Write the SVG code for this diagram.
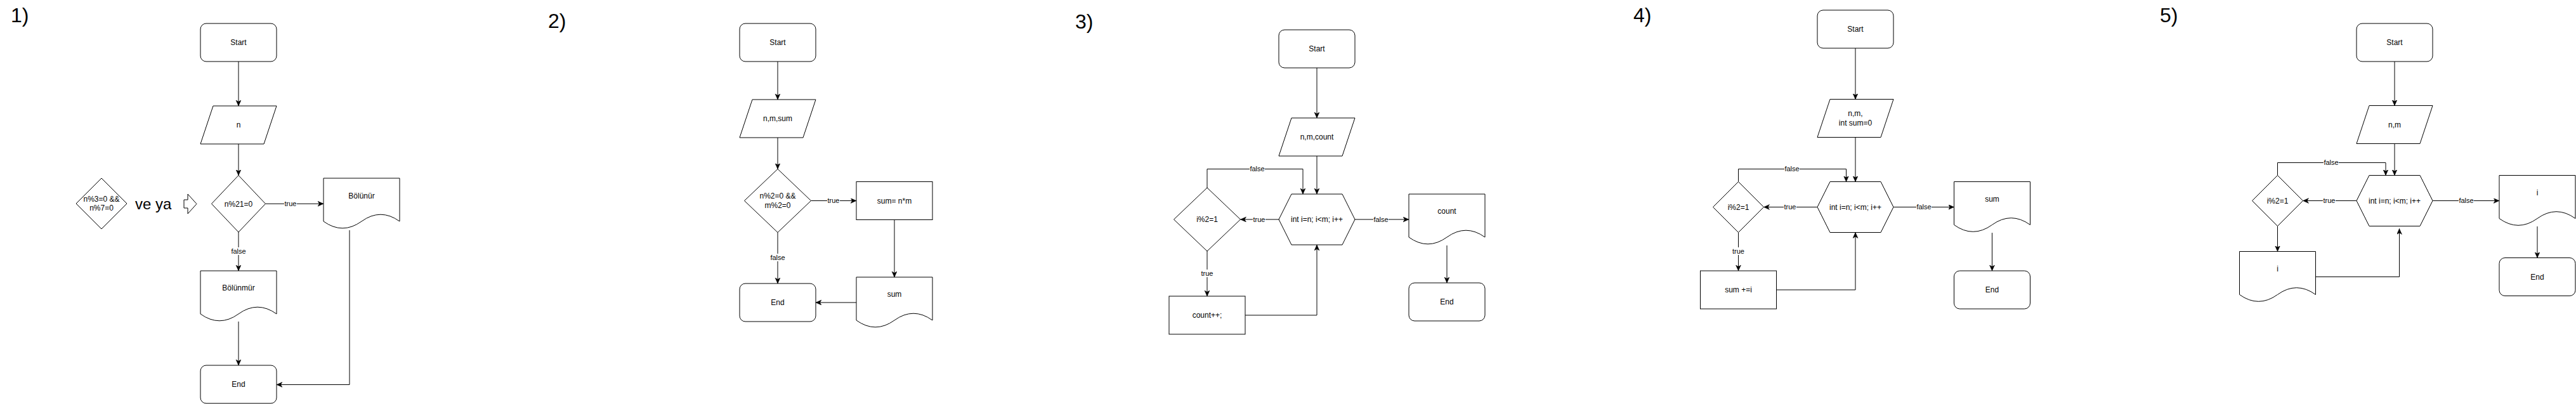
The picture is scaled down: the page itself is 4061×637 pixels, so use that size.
<svg xmlns="http://www.w3.org/2000/svg" width="4061" height="637" viewBox="0 0 4061 637">
<style>
.s{fill:#fff;stroke:#000;stroke-width:1}
.t{font-family:"Liberation Sans",Arial,Helvetica,sans-serif;font-size:12px;text-anchor:middle;fill:#000}
.h{font-family:"Liberation Sans",Arial,Helvetica,sans-serif;font-size:32px;fill:#000}
.e{fill:none;stroke:#000;stroke-width:1}
.l{font-family:"Liberation Sans",Arial,Helvetica,sans-serif;font-size:11px;text-anchor:middle;fill:#000}
.lb{fill:#fff;stroke:none}
</style>
<defs>
<marker id="a" markerUnits="userSpaceOnUse" markerWidth="10" markerHeight="9" refX="9" refY="4" orient="auto">
<path d="M0,0 L9,4 L0,8 L2.5,4 Z" fill="#000" stroke="#000" stroke-width="0.5"/>
</marker>
</defs>
<rect width="4061" height="637" fill="#fff"/>

<!-- Titles -->
<text class="h" x="17" y="35">1)</text>
<text class="h" x="864" y="44">2)</text>
<text class="h" x="1695" y="45">3)</text>
<text class="h" x="2575" y="35">4)</text>
<text class="h" x="3405" y="35">5)</text>

<!-- Connectors -->
<g id="connectors">
<!-- 1 -->
<path class="e" marker-end="url(#a)" d="M376,97 V167"/>
<path class="e" marker-end="url(#a)" d="M376,227 V276.5"/>
<path class="e" marker-end="url(#a)" d="M418.5,321.3 H510"/>
<path class="e" marker-end="url(#a)" d="M376,366 V427"/>
<path class="e" marker-end="url(#a)" d="M376,507 V576"/>
<path class="e" marker-end="url(#a)" d="M551,363 V606.5 H436"/>
<!-- 2 -->
<path class="e" marker-end="url(#a)" d="M1226,97 V157"/>
<path class="e" marker-end="url(#a)" d="M1226,217 V266.5"/>
<path class="e" marker-end="url(#a)" d="M1278.5,316.5 H1350"/>
<path class="e" marker-end="url(#a)" d="M1410,346.5 V437"/>
<path class="e" marker-end="url(#a)" d="M1350,477 H1286"/>
<path class="e" marker-end="url(#a)" d="M1226,366.5 V447"/>
<!-- 3 -->
<path class="e" marker-end="url(#a)" d="M2076,107 V186"/>
<path class="e" marker-end="url(#a)" d="M2076,246 V306"/>
<path class="e" marker-end="url(#a)" d="M2016,346 H1955.5"/>
<path class="e" marker-end="url(#a)" d="M1903,296 V266.5 H2054 V306"/>
<path class="e" marker-end="url(#a)" d="M1903,396 V467"/>
<path class="e" marker-end="url(#a)" d="M1963,497 H2076 V386"/>
<path class="e" marker-end="url(#a)" d="M2136,346 H2221"/>
<path class="e" marker-end="url(#a)" d="M2281,387 V446"/>
<!-- 4 -->
<path class="e" marker-end="url(#a)" d="M2925,76 V156.5"/>
<path class="e" marker-end="url(#a)" d="M2925,216.5 V286.5"/>
<path class="e" marker-end="url(#a)" d="M2865,326.5 H2780.5"/>
<path class="e" marker-end="url(#a)" d="M2740.5,286.5 V266.5 H2910.5 V286.5"/>
<path class="e" marker-end="url(#a)" d="M2740.5,366.5 V427"/>
<path class="e" marker-end="url(#a)" d="M2800.5,457 H2925 V366.5"/>
<path class="e" marker-end="url(#a)" d="M2985,326.5 H3080.5"/>
<path class="e" marker-end="url(#a)" d="M3140.5,367 V427"/>
<!-- 5 -->
<path class="e" marker-end="url(#a)" d="M3775,97 V166.5"/>
<path class="e" marker-end="url(#a)" d="M3775,226.5 V276.5"/>
<path class="e" marker-end="url(#a)" d="M3715,316.5 H3630.5"/>
<path class="e" marker-end="url(#a)" d="M3590.5,276.5 V256.5 H3761 V276.5"/>
<path class="e" marker-end="url(#a)" d="M3590.5,356.5 V396.5"/>
<path class="e" marker-end="url(#a)" d="M3650.5,436.5 H3782.5 V360.5"/>
<path class="e" marker-end="url(#a)" d="M3835,316.5 H3940"/>
<path class="e" marker-end="url(#a)" d="M4000,357 V406.5"/>

<!-- edge labels -->
<rect class="lb" x="448" y="315" width="20" height="12"/><text class="l" x="458" y="325">true</text>
<rect class="lb" x="364" y="390" width="24" height="12"/><text class="l" x="376" y="400">false</text>
<rect class="lb" x="1304" y="310" width="20" height="12"/><text class="l" x="1314" y="320">true</text>
<rect class="lb" x="1214" y="400" width="24" height="12"/><text class="l" x="1226" y="410">false</text>
<rect class="lb" x="1975" y="340" width="20" height="12"/><text class="l" x="1985" y="350">true</text>
<rect class="lb" x="1970" y="260" width="24" height="12"/><text class="l" x="1982" y="270">false</text>
<rect class="lb" x="1893" y="425" width="20" height="12"/><text class="l" x="1903" y="435">true</text>
<rect class="lb" x="2165" y="340" width="24" height="12"/><text class="l" x="2177" y="350">false</text>
<rect class="lb" x="2812" y="320" width="20" height="12"/><text class="l" x="2822" y="330">true</text>
<rect class="lb" x="2813" y="260" width="24" height="12"/><text class="l" x="2825" y="270">false</text>
<rect class="lb" x="2730" y="390" width="20" height="12"/><text class="l" x="2740.5" y="400">true</text>
<rect class="lb" x="3021" y="320" width="24" height="12"/><text class="l" x="3033" y="330">false</text>
<rect class="lb" x="3662" y="310" width="20" height="12"/><text class="l" x="3672" y="320">true</text>
<rect class="lb" x="3663" y="250" width="24" height="12"/><text class="l" x="3675" y="260">false</text>
<rect class="lb" x="3876" y="310" width="24" height="12"/><text class="l" x="3888" y="320">false</text>
</g>

<!-- ===== Diagram 1 ===== -->
<g id="d1-start"><rect class="s" x="316" y="37" width="120" height="60" rx="9"/><text class="t" x="376" y="71">Start</text></g>
<g id="d1-input"><polygon class="s" points="336,167 436,167 416,227 316,227"/><text class="t" x="376" y="201">n</text></g>
<g id="d1-decision"><polygon class="s" points="376,276.5 418.5,321.3 376,366 333.5,321.3"/><text class="t" x="376" y="325.5">n%21=0</text></g>
<g id="d1-bolunur"><path class="s" d="M510,281 H630 V349 Q600,327.4 570,349 Q540,370.6 510,349 Z"/><text class="t" x="570" y="313">Bölünür</text></g>
<g id="d1-bolunmur"><path class="s" d="M316,427 H436 V495 Q406,473.4 376,495 Q346,516.6 316,495 Z"/><text class="t" x="376" y="458">Bölünmür</text></g>
<g id="d1-end"><rect class="s" x="316" y="576" width="120" height="60" rx="9"/><text class="t" x="376" y="610">End</text></g>
<g id="d1-alt"><polygon class="s" points="160,281 200,321 160,361 120,321"/><text class="t" x="160" y="318">n%3=0 &amp;&amp;</text><text class="t" x="160" y="332">n%7=0</text></g>
<g id="d1-veya"><text x="213" y="329.5" style="font-family:'Liberation Sans',Arial,sans-serif;font-size:24px;fill:#000">ve ya</text></g>
<g id="d1-arrow"><polygon class="s" points="290,315 296,315 296,306 310,321.5 296,337 296,328 290,328"/></g>

<!-- ===== Diagram 2 ===== -->
<g id="d2-start"><rect class="s" x="1166" y="37" width="120" height="60" rx="9"/><text class="t" x="1226" y="71">Start</text></g>
<g id="d2-input"><polygon class="s" points="1186,157 1286,157 1266,217 1166,217"/><text class="t" x="1226" y="191">n,m,sum</text></g>
<g id="d2-decision"><polygon class="s" points="1226,266.5 1278.5,316.5 1226,366.5 1173.5,316.5"/><text class="t" x="1226" y="313">n%2=0 &amp;&amp;</text><text class="t" x="1226" y="327.5">m%2=0</text></g>
<g id="d2-process"><rect class="s" x="1350" y="286.5" width="120" height="60"/><text class="t" x="1410" y="320.5">sum= n*m</text></g>
<g id="d2-output"><path class="s" d="M1350,437 H1470 V505 Q1440,483.4 1410,505 Q1380,526.6 1350,505 Z"/><text class="t" x="1410" y="468">sum</text></g>
<g id="d2-end"><rect class="s" x="1166" y="447" width="120" height="60" rx="9"/><text class="t" x="1226" y="481">End</text></g>

<!-- ===== Diagram 3 ===== -->
<g id="d3-start"><rect class="s" x="2016" y="47" width="120" height="60" rx="9"/><text class="t" x="2076" y="81">Start</text></g>
<g id="d3-input"><polygon class="s" points="2036,186 2136,186 2116,246 2016,246"/><text class="t" x="2076" y="220">n,m,count</text></g>
<g id="d3-loop"><polygon class="s" points="2036,306 2116,306 2136,346 2116,386 2036,386 2016,346"/><text class="t" x="2076" y="350">int i=n; i&lt;m; i++</text></g>
<g id="d3-decision"><polygon class="s" points="1903,296 1955.5,346 1903,396 1850.5,346"/><text class="t" x="1903" y="350">i%2=1</text></g>
<g id="d3-process"><rect class="s" x="1843" y="467" width="120" height="60"/><text class="t" x="1903" y="501">count++;</text></g>
<g id="d3-output"><path class="s" d="M2221,306 H2341 V374 Q2311,352.4 2281,374 Q2251,395.6 2221,374 Z"/><text class="t" x="2281" y="337">count</text></g>
<g id="d3-end"><rect class="s" x="2221" y="446" width="120" height="60" rx="9"/><text class="t" x="2281" y="480">End</text></g>

<!-- ===== Diagram 4 ===== -->
<g id="d4-start"><rect class="s" x="2865" y="16" width="120" height="60" rx="9"/><text class="t" x="2925" y="50">Start</text></g>
<g id="d4-input"><polygon class="s" points="2885,156.5 2985,156.5 2965,216.5 2865,216.5"/><text class="t" x="2925" y="183">n,m,</text><text class="t" x="2925" y="197.5">int sum=0</text></g>
<g id="d4-loop"><polygon class="s" points="2885,286.5 2965,286.5 2985,326.5 2965,366.5 2885,366.5 2865,326.5"/><text class="t" x="2925" y="330.5">int i=n; i&lt;m; i++</text></g>
<g id="d4-decision"><polygon class="s" points="2740.5,286.5 2780.5,326.5 2740.5,366.5 2700.5,326.5"/><text class="t" x="2740.5" y="330.5">i%2=1</text></g>
<g id="d4-process"><rect class="s" x="2680.5" y="427" width="120" height="60"/><text class="t" x="2740.5" y="461">sum +=i</text></g>
<g id="d4-output"><path class="s" d="M3080.5,286.5 H3200.5 V354.5 Q3170.5,332.9 3140.5,354.5 Q3110.5,376.1 3080.5,354.5 Z"/><text class="t" x="3140.5" y="318">sum</text></g>
<g id="d4-end"><rect class="s" x="3080.5" y="427" width="120" height="60" rx="9"/><text class="t" x="3140.5" y="461">End</text></g>

<!-- ===== Diagram 5 ===== -->
<g id="d5-start"><rect class="s" x="3715" y="37" width="120" height="60" rx="9"/><text class="t" x="3775" y="71">Start</text></g>
<g id="d5-input"><polygon class="s" points="3735,166.5 3835,166.5 3815,226.5 3715,226.5"/><text class="t" x="3775" y="200.5">n,m</text></g>
<g id="d5-loop"><polygon class="s" points="3735,276.5 3815,276.5 3835,316.5 3815,356.5 3735,356.5 3715,316.5"/><text class="t" x="3775" y="320.5">int i=n; i&lt;m; i++</text></g>
<g id="d5-decision"><polygon class="s" points="3590.5,276.5 3630.5,316.5 3590.5,356.5 3550.5,316.5"/><text class="t" x="3590.5" y="320.5">i%2=1</text></g>
<g id="d5-print"><path class="s" d="M3530.5,396.5 H3650.5 V464.5 Q3620.5,442.9 3590.5,464.5 Q3560.5,486.1 3530.5,464.5 Z"/><text class="t" x="3590.5" y="428">i</text></g>
<g id="d5-output"><path class="s" d="M3940,276.5 H4060 V344.5 Q4030,322.9 4000,344.5 Q3970,366.1 3940,344.5 Z"/><text class="t" x="4000" y="308">i</text></g>
<g id="d5-end"><rect class="s" x="3940" y="406.5" width="120" height="60" rx="9"/><text class="t" x="4000" y="440.5">End</text></g>
</svg>
